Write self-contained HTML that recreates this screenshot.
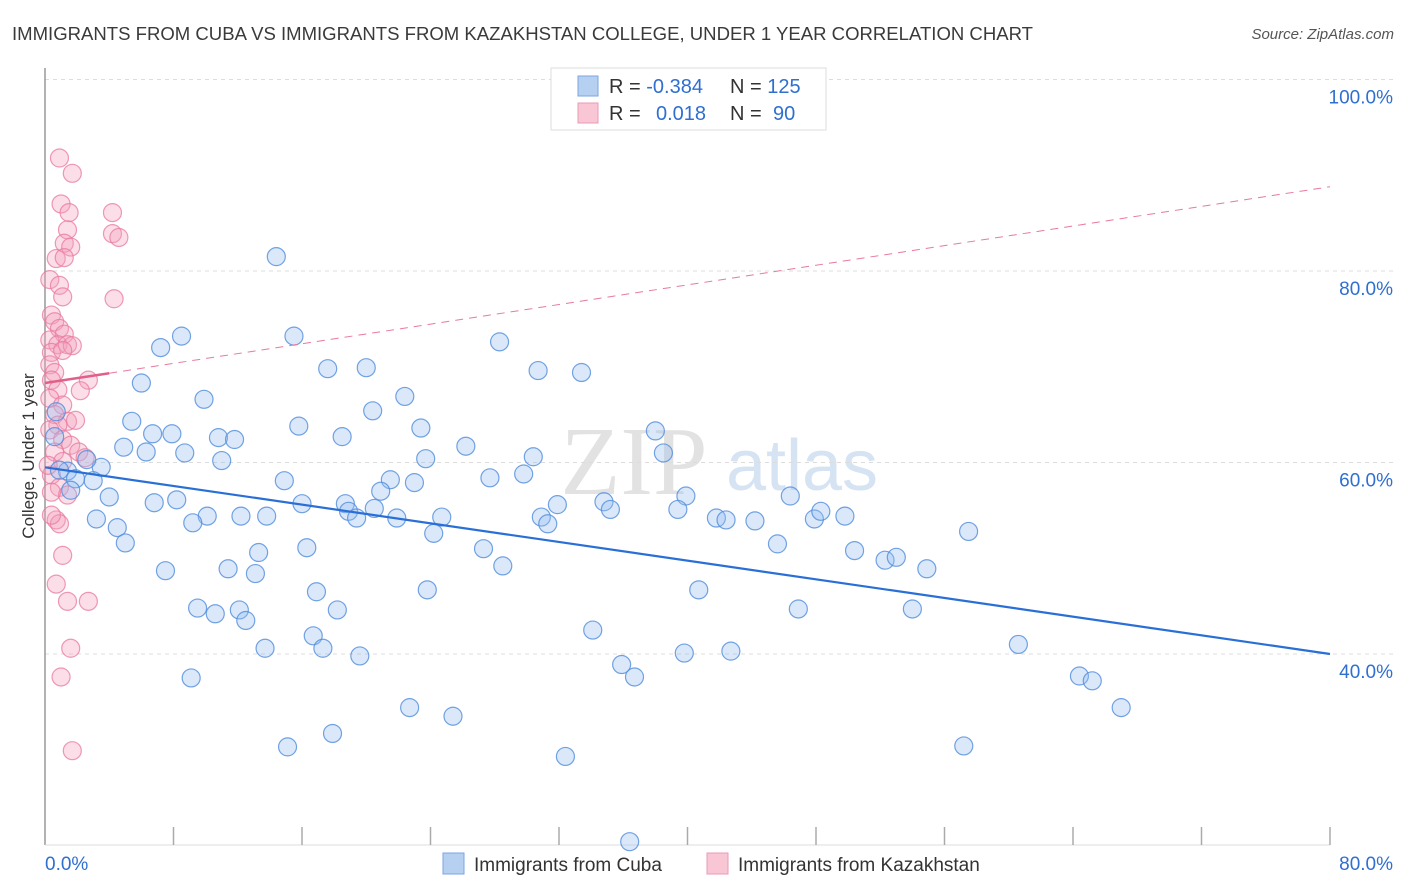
<!DOCTYPE html>
<html><head><meta charset="utf-8"><style>
body{margin:0;background:#fff;font-family:"Liberation Sans",sans-serif;}
svg{display:block}
</style></head><body>
<svg id="chart" width="1406" height="892">
<text x="12" y="40" font-size="18.5" fill="#3a3a3a" textLength="1021" lengthAdjust="spacingAndGlyphs">IMMIGRANTS FROM CUBA VS IMMIGRANTS FROM KAZAKHSTAN COLLEGE, UNDER 1 YEAR CORRELATION CHART</text>
<text x="1394" y="39" font-size="15" fill="#555" text-anchor="end" font-style="italic">Source: ZipAtlas.com</text>
<text x="634" y="494" font-size="98" fill="#e2e2e2" font-family="Liberation Serif" text-anchor="middle">ZIP</text>
<text x="802" y="490" font-size="72" fill="#d6e3f3" text-anchor="middle">atlas</text>
<g id="grid"></g>
<g id="axes"></g>
<g id="marks"></g>
<text transform="translate(34,456) rotate(-90)" font-size="17" fill="#333" text-anchor="middle">College, Under 1 year</text>
<g>
<rect x="551" y="68" width="275" height="62" fill="#fff" stroke="#ddd"/>
<rect x="578" y="76" width="20" height="20" fill="#b6d0f2" stroke="#7aa6e0"/>
<rect x="578" y="103" width="20" height="20" fill="#f8c6d4" stroke="#eb9ab4"/>
<text x="609" y="93" font-size="20" fill="#333">R = <tspan fill="#2f6fd0">-0.384</tspan></text>
<text x="730" y="93" font-size="20" fill="#333">N = <tspan fill="#2f6fd0">125</tspan></text>
<text x="609" y="120" font-size="20" fill="#333">R = <tspan fill="#2f6fd0" x="656">0.018</tspan></text>
<text x="730" y="120" font-size="20" fill="#333">N = <tspan fill="#2f6fd0" x="773">90</tspan></text>
</g>
<g>
<rect x="443" y="853" width="21" height="21" fill="#b6d0f2" stroke="#7aa6e0"/>
<text x="474" y="871" font-size="19" fill="#333">Immigrants from Cuba</text>
<rect x="707" y="853" width="21" height="21" fill="#f8c6d4" stroke="#eb9ab4"/>
<text x="738" y="871" font-size="19" fill="#333">Immigrants from Kazakhstan</text>
</g>
</svg>
<script>
const cubaX=[14.4,8.5,7.2,15.5,6.0,9.9,5.4,6.7,7.9,4.9,6.3,8.7,10.8,11.8,11.0,3.5,2.6,1.4,1.9,3.0,4.0,1.6,3.2,4.5,5.0,6.8,8.2,10.1,9.2,12.2,13.8,13.3,7.5,11.4,13.1,9.5,10.6,12.1,12.5,13.7,9.1,15.8,14.9,16.0,16.3,17.6,18.5,20.0,20.4,22.4,23.4,23.7,21.5,23.0,20.9,18.7,18.9,19.4,20.5,21.9,24.2,24.7,16.9,18.2,16.7,17.3,19.6,22.7,25.4,15.1,17.9,23.8,26.2,27.7,28.3,29.8,30.4,30.7,30.9,31.3,31.9,27.3,28.5,33.4,34.8,35.2,38.0,38.5,39.9,39.4,41.8,42.4,44.2,45.6,46.4,47.9,48.3,49.8,50.4,52.3,53.0,54.9,57.5,40.7,46.9,54.0,34.1,35.9,36.7,39.8,42.7,60.6,64.4,65.2,67.0,57.2,32.4,36.4,0.7,0.6,0.9];
const cubaY=[81.5,73.2,72.0,73.2,68.3,66.6,64.3,63.0,63.0,61.6,61.1,61.0,62.6,62.4,60.2,59.5,60.3,59.1,58.3,58.1,56.4,57.1,54.1,53.2,51.6,55.8,56.1,54.4,53.7,54.4,54.4,50.6,48.7,48.9,48.4,44.8,44.2,44.6,43.5,40.6,37.5,63.8,58.1,55.7,51.1,69.8,62.7,69.9,65.4,66.9,63.6,60.4,58.2,57.9,57.0,55.7,54.9,54.2,55.2,54.2,52.6,54.3,46.5,44.6,41.9,40.6,39.8,34.4,33.5,30.3,31.7,46.7,61.7,58.4,72.6,58.8,60.6,69.6,54.3,53.6,55.6,51.0,49.2,69.4,55.9,55.1,63.3,61.0,56.5,55.1,54.2,54.0,53.9,51.5,56.5,54.1,54.9,54.4,50.8,49.8,50.1,48.9,52.8,46.7,44.7,44.7,42.5,38.9,37.6,40.1,40.3,41.0,37.7,37.2,34.4,30.4,29.3,20.4,65.3,62.7,59.2];
const kazX=[0.9,1.7,1.0,1.5,4.2,1.4,1.2,1.6,4.2,4.6,0.7,1.2,0.3,0.9,1.1,4.3,0.4,0.6,0.9,1.2,0.3,0.8,1.4,1.7,0.4,1.1,0.3,0.6,2.7,2.2,0.4,0.8,0.3,1.1,0.6,1.4,1.9,0.8,0.3,1.1,1.6,0.6,2.1,2.5,1.1,0.4,0.9,1.4,0.4,0.7,0.9,1.1,0.7,1.4,2.7,1.6,1.0,1.7,0.4,0.2];
const kazY=[91.8,90.2,87.0,86.1,86.1,84.3,82.9,82.5,83.9,83.5,81.3,81.4,79.1,78.5,77.3,77.1,75.4,74.7,74.0,73.4,72.8,72.3,72.3,72.2,71.5,71.7,70.2,69.4,68.6,67.5,68.6,67.6,66.7,66.0,65.0,64.3,64.4,63.9,63.4,62.4,61.8,61.1,61.1,60.5,60.1,58.7,57.4,56.6,56.9,54.0,53.6,50.3,47.3,45.5,45.5,40.6,37.6,29.9,54.5,59.7];
const cubaTrend=[59.5,40.0];   // y at x=0, y at x=80
const kazTrend=[68.3,88.8];
const yTicks=[100,80,60,40];
const xTickVals=[8,16,24,32,40,48,56,64,72,80];

const NS='http://www.w3.org/2000/svg';
const X=v=>45+v*(1330-45)/80;
const Y=v=>79.5+(100-v)*9.575;
function mk(parent,tag,attrs){const e=document.createElementNS(NS,tag);for(const k in attrs)e.setAttribute(k,attrs[k]);parent.appendChild(e);return e;}
const grid=document.getElementById('grid'),axes=document.getElementById('axes'),marks=document.getElementById('marks');
yTicks.forEach(t=>{
  const l=mk(grid,'line',{x1:45,x2:1394,y1:Y(t),y2:Y(t),stroke:'#dcdcdc','stroke-dasharray':'4,4'});
  
  
  const tx=mk(axes,'text',{x:1393,y:Y(t)+24,'font-size':19,fill:'#2f6fd0','text-anchor':'end'});
  tx.textContent=t.toFixed(1)+'%';
  
  
});
const ya=mk(axes,'line',{x1:45,x2:45,y1:68,y2:845,stroke:'#999','stroke-width':1.5});


const xa=mk(axes,'line',{x1:45,x2:1330,y1:845,y2:845,stroke:'#ddd'});


xTickVals.forEach(t=>{
  const l=mk(axes,'line',{x1:X(t),x2:X(t),y1:827,y2:845,stroke:'#aaa','stroke-width':1.5});
  
  
});
const xl0=mk(axes,'text',{x:45,y:870,'font-size':19,fill:'#2f6fd0'});xl0.textContent='0.0%';


const xl1=mk(axes,'text',{x:1393,y:870,'font-size':19,fill:'#2f6fd0','text-anchor':'end'});xl1.textContent='80.0%';



kazX.forEach((x,i)=>{
  const c=mk(marks,'circle',{cx:X(x),cy:Y(kazY[i]),r:9,fill:'rgba(244,160,188,0.35)',stroke:'rgba(232,120,156,0.75)','stroke-width':1.2});
  
  
});
cubaX.forEach((x,i)=>{
  const c=mk(marks,'circle',{cx:X(x),cy:Y(cubaY[i]),r:9,fill:'rgba(150,190,240,0.35)',stroke:'rgba(80,140,220,0.8)','stroke-width':1.2});
  
  
});
const kY=x=>kazTrend[0]+(kazTrend[1]-kazTrend[0])*x/80;
const kd=mk(marks,'line',{x1:X(4),y1:Y(kY(4)),x2:X(80),y2:Y(kY(80)),stroke:'#e87a9c','stroke-width':1,'stroke-dasharray':'8,6'});


const ks=mk(marks,'line',{x1:X(0),y1:Y(kY(0)),x2:X(4),y2:Y(kY(4)),stroke:'#e0608a','stroke-width':2.5});


const bt=mk(marks,'line',{x1:X(0),y1:Y(cubaTrend[0]),x2:X(80),y2:Y(cubaTrend[1]),stroke:'#2a6fd6','stroke-width':2.2});


</script>
</body></html>
